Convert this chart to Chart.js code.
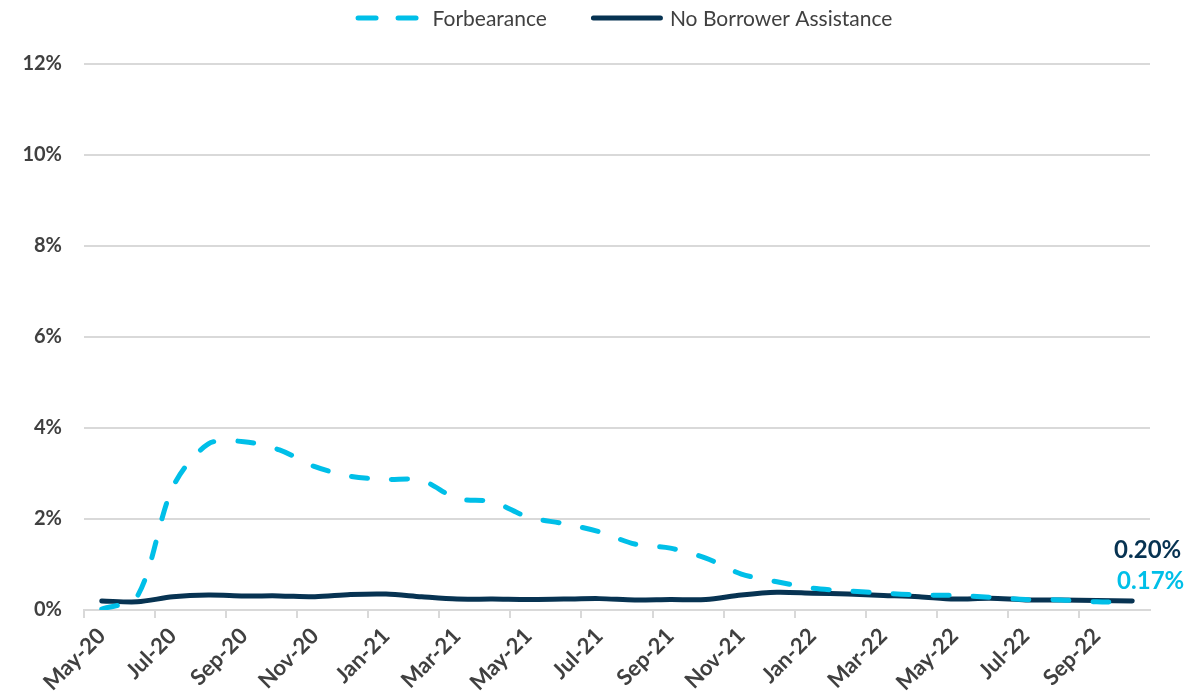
<!DOCTYPE html>
<html>
<head>
<meta charset="utf-8">
<script src="https://cdn.jsdelivr.net/npm/chart.js@4/dist/chart.umd.min.js"></script>
<style>
  html, body { margin: 0; padding: 0; background: #ffffff; }
  #wrap { width: 1188px; height: 695px; }
</style>
</head>
<body>
<div id="wrap"><canvas id="c" width="1188" height="695"></canvas></div>
<script>
// Monthly categories, May-20 through Oct-22
const months = [
  'May-20','Jun-20','Jul-20','Aug-20','Sep-20','Oct-20','Nov-20','Dec-20',
  'Jan-21','Feb-21','Mar-21','Apr-21','May-21','Jun-21','Jul-21','Aug-21',
  'Sep-21','Oct-21','Nov-21','Dec-21','Jan-22','Feb-22','Mar-22','Apr-22',
  'May-22','Jun-22','Jul-22','Aug-22','Sep-22','Oct-22'
];

// Share of loans (%), by borrower assistance status
const forbearance = [
  0.02, 0.30, 2.70, 3.65, 3.70, 3.52, 3.15, 2.94,
  2.87, 2.85, 2.45, 2.38, 2.04, 1.90, 1.72, 1.45,
  1.36, 1.14, 0.79, 0.62, 0.48, 0.42, 0.37, 0.33,
  0.32, 0.28, 0.23, 0.22, 0.18, 0.17
];
const noAssistance = [
  0.20, 0.18, 0.29, 0.33, 0.31, 0.31, 0.29, 0.34,
  0.35, 0.29, 0.24, 0.24, 0.23, 0.24, 0.25, 0.22,
  0.23, 0.23, 0.33, 0.39, 0.37, 0.35, 0.32, 0.29,
  0.24, 0.26, 0.22, 0.22, 0.21, 0.20
];

// Y axis ticks (%)
const yTicks = [0, 2, 4, 6, 8, 10, 12];

const CYAN = '#00BFE8';
const NAVY = '#073352';
const TEXT = '#404040';
const GRID = '#D9D9D9';
const FONT = 'Lato, "Open Sans", sans-serif';

// Legend drawn above the plot: line sample followed by the series name
const lineLegend = {
  id: 'lineLegend',
  afterDraw(chart) {
    const ctx = chart.ctx;
    const items = chart.data.datasets.map(ds => ({
      text: ds.label, color: ds.borderColor, dash: ds.legendDash || [],
      width: ds.legendLineWidth, gap: ds.legendTextGap
    }));
    ctx.save();
    ctx.font = '21px ' + FONT;
    const gapItem = 44;
    let total = 0;
    items.forEach((it, i) => {
      it.tw = ctx.measureText(it.text).width;
      total += it.width + it.gap + it.tw + (i < items.length - 1 ? gapItem : 0);
    });
    const cx = (chart.chartArea.left + chart.chartArea.right) / 2 + 7;
    let x = cx - total / 2;
    const y = 18;
    items.forEach(it => {
      ctx.beginPath();
      ctx.setLineDash(it.dash);
      ctx.lineCap = 'round';
      ctx.lineWidth = 5;
      ctx.strokeStyle = it.color;
      ctx.moveTo(x + 2.5, y);
      ctx.lineTo(x + it.width - 2.5, y);
      ctx.stroke();
      ctx.setLineDash([]);
      ctx.fillStyle = TEXT;
      ctx.textAlign = 'left';
      ctx.textBaseline = 'middle';
      ctx.fillText(it.text, x + it.width + it.gap, y + 1);
      x += it.width + it.gap + it.tw + gapItem;
    });
    ctx.restore();
  }
};

// Value labels for the latest month of each series
const endLabels = {
  id: 'endLabels',
  afterDatasetsDraw(chart) {
    const ctx = chart.ctx;
    ctx.save();
    ctx.font = 'bold 24px ' + FONT;
    ctx.textAlign = 'right';
    ctx.textBaseline = 'middle';
    chart.data.datasets.forEach((ds, di) => {
      const meta = chart.getDatasetMeta(di);
      const last = meta.data[meta.data.length - 1];
      const v = ds.data[ds.data.length - 1];
      ctx.fillStyle = ds.borderColor;
      ctx.fillText(v.toFixed(2) + '%', last.x + ds.endLabelDx, last.y + ds.endLabelDy);
    });
    ctx.restore();
  }
};

new Chart(document.getElementById('c'), {
  type: 'line',
  data: {
    labels: months,
    datasets: [
      {
        label: 'Forbearance',
        data: forbearance,
        borderColor: CYAN,
        backgroundColor: CYAN,
        borderWidth: 5,
        borderDash: [16, 24],
        borderCapStyle: 'round',
        pointRadius: 0,
        tension: 0.3,
        legendDash: [18, 22],
        legendLineWidth: 65,
        legendTextGap: 12,
        endLabelDx: 52,
        endLabelDy: -21
      },
      {
        label: 'No Borrower Assistance',
        data: noAssistance,
        borderColor: NAVY,
        backgroundColor: NAVY,
        borderWidth: 5,
        borderCapStyle: 'round',
        pointRadius: 0,
        tension: 0.3,
        legendLineWidth: 72,
        legendTextGap: 7,
        endLabelDx: 49,
        endLabelDy: -51
      }
    ]
  },
  options: {
    responsive: false,
    animation: false,
    layout: { padding: { top: 64, right: 38, left: 0, bottom: 0 } },
    plugins: {
      legend: { display: false },
      tooltip: { enabled: false }
    },
    scales: {
      x: {
        offset: true,
        grid: {
          offset: true,
          drawOnChartArea: false,
          drawTicks: true,
          tickLength: 8,
          lineWidth: 2,
          color: ctx => (ctx.index % 2 === 0 ? GRID : 'rgba(0,0,0,0)')
        },
        border: { display: true, color: GRID, width: 2 },
        ticks: {
          autoSkip: false,
          minRotation: 45,
          maxRotation: 45,
          padding: 5,
          color: TEXT,
          font: { family: FONT, size: 22, weight: 'bold' },
          callback: (v, i) => (i % 2 === 0 ? months[i] : '')
        },
        afterFit: s => { s.height = 85; }
      },
      y: {
        min: 0,
        max: 12,
        afterBuildTicks: s => { s.ticks = yTicks.map(v => ({ value: v })); },
        grid: { color: GRID, lineWidth: 2, drawTicks: false },
        border: { display: false },
        ticks: {
          padding: 22,
          color: TEXT,
          font: { family: FONT, size: 20, weight: 'bold' },
          callback: v => v + '%'
        },
        afterFit: s => { s.width = 84; }
      }
    }
  },
  plugins: [lineLegend, endLabels]
});
</script>
</body>
</html>
